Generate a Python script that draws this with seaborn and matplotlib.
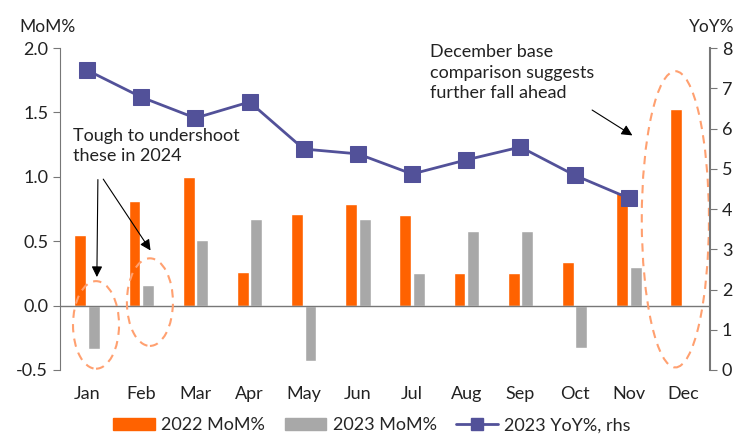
import numpy as np
import pandas as pd
import seaborn as sns
import matplotlib
matplotlib.use('Agg')
import matplotlib.pyplot as plt
from matplotlib.patches import Ellipse, Patch
from matplotlib.lines import Line2D

sns.set_style('white')
plt.rcParams['font.family'] = ['Lato', 'DejaVu Sans']

months = ['Jan', 'Feb', 'Mar', 'Apr', 'May', 'Jun', 'Jul', 'Aug', 'Sep', 'Oct', 'Nov', 'Dec']
mom_2022 = [0.55, 0.81, 1.0, 0.26, 0.71, 0.79, 0.70, 0.25, 0.25, 0.34, 0.88, 1.53]
mom_2023 = [-0.34, 0.16, 0.51, 0.67, -0.43, 0.67, 0.25, 0.58, 0.58, -0.33, 0.30, np.nan]
yoy_2023 = [7.45, 6.78, 6.26, 6.66, 5.49, 5.37, 4.87, 5.22, 5.54, 4.84, 4.27]

orange = '#FF6200'
grey = '#A8A8A8'
purple = '#525199'
light_orange = '#FFA070'
txt = '#222222'

df = pd.DataFrame({
    'Month': months * 2,
    'value': mom_2022 + mom_2023,
    'series': ['2022 MoM%'] * 12 + ['2023 MoM%'] * 12,
})

fig = plt.figure(figsize=(7.5, 4.43), dpi=100)
ax = fig.add_axes([0.08, 0.1648, 0.8667, 0.7268])

sns.barplot(data=df, x='Month', y='value', hue='series', palette=[orange, grey],
            width=0.5, gap=0.12, errorbar=None, saturation=1, ax=ax, legend=False)
ax.axhline(0, color='#777777', lw=1, zorder=1)
ax.set_xlim(-0.5, 11.5)
ax.set_ylim(-0.5, 2.0)
ax.set_yticks([-0.5, 0.0, 0.5, 1.0, 1.5, 2.0])
ax.set_yticklabels(['-0.5', '0.0', '0.5', '1.0', '1.5', '2.0'])
ax.set_xlabel('')
ax.set_ylabel('')
for s in ['top', 'right', 'bottom']:
    ax.spines[s].set_visible(False)
ax.spines['left'].set_color('#777777')
ax.tick_params(axis='y', left=True, length=5, color='#777777', labelsize=13, labelcolor=txt)
ax.tick_params(axis='x', bottom=False, labelsize=13, labelcolor=txt, pad=8)

ax2 = ax.twinx()
sns.lineplot(x=np.arange(len(yoy_2023)), y=yoy_2023, ax=ax2, color=purple, lw=2,
             marker='s', markersize=11, markeredgecolor=purple)
ax2.set_ylim(0, 8)
ax2.set_xlim(-0.5, 11.5)
ax2.set_yticks(range(0, 9))
for s in ['top', 'left', 'bottom']:
    ax2.spines[s].set_visible(False)
ax2.spines['right'].set_color('#777777')
ax2.spines['right'].set_linewidth(1.5)
ax2.tick_params(axis='y', right=True, length=5, color='#777777', labelsize=13, labelcolor=txt)

fig.text(0.026, 0.928, 'MoM%', fontsize=12.5, color=txt)
fig.text(0.918, 0.928, 'YoY%', fontsize=12.5, color=txt)

# ellipses
for cx, cy, w, h in [(0.165, -0.15, 0.85, 0.68), (1.16, 0.027, 0.85, 0.68), (10.86, 0.67, 1.24, 2.3)]:
    ax.add_patch(Ellipse((cx, cy), w, h, fill=False, ls=(0, (4, 3)), lw=1.5,
                         edgecolor=light_orange, zorder=5))

ax.text(-0.26, 1.38, 'Tough to undershoot\nthese in 2024', fontsize=13, va='top',
        color=txt, linespacing=1.3)
ax.text(6.33, 2.03, 'December base\ncomparison suggests\nfurther fall ahead', fontsize=13,
        va='top', color=txt, linespacing=1.35)

arrow = dict(arrowstyle='-|>', mutation_scale=16, lw=0.8, color='black')
ax.annotate('', xy=(0.18, 0.2), xytext=(0.2, 1.0), arrowprops=arrow)
ax.annotate('', xy=(1.2, 0.41), xytext=(0.27, 1.0), arrowprops=arrow)
ax.annotate('', xy=(10.11, 1.31), xytext=(9.28, 1.53), arrowprops=arrow)

handles = [Patch(color=orange, label='2022 MoM%'),
           Patch(color=grey, label='2023 MoM%'),
           Line2D([], [], color=purple, lw=2, marker='s', markersize=8, label='2023 YoY%, rhs')]
fig.legend(handles=handles, loc='lower center', bbox_to_anchor=(0.496, -0.015), ncol=3,
           frameon=False, fontsize=13, handlelength=2.3, handleheight=0.7,
           handletextpad=0.35, columnspacing=1.1)

fig.savefig('out.png', dpi=100)
